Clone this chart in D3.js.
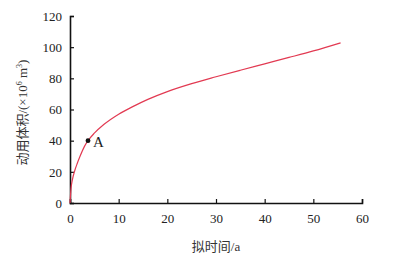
<!DOCTYPE html>
<html><head><meta charset="utf-8">
<script src="https://cdn.jsdelivr.net/npm/d3@7"></script>
<style>body{margin:0;background:#fff}svg{display:block}</style>
</head><body><svg id="c" width="399" height="262"></svg>
<script>
const xTicks = [0,10,20,30,40,50,60];
const yTicks = [0,20,40,60,80,100,120];
const timeA = [0,0.2,0.5,1,1.5,2,3,3.7,5,7,10,13,16,20,25,30,35,40,45,50,55.6];
const volume = [0,9,15,21,25.5,29.5,36.5,40,44.8,50.5,57,62,66.5,71.5,76.6,81,85.2,89.3,93.4,97.6,102.8];
const pointA = {x:3.7, y:40, label:"A"};
const xLabel = "拟时间/a";

const svg = d3.select("#c");
const m = {l:70, r:37, t:16, b:59};
const W = 399, H = 262;
const x = d3.scaleLinear().domain([0,60]).range([m.l, W-m.r]);
const y = d3.scaleLinear().domain([0,120]).range([H-m.b, m.t]);
const font = "'Liberation Serif','Times New Roman','Noto Sans CJK SC',serif";

const gx = svg.append("g").attr("transform",`translate(0,${y(0)})`)
  .call(d3.axisBottom(x).tickValues(xTicks).tickSize(-4).tickPadding(11));
const gy = svg.append("g").attr("transform",`translate(${x(0)},0)`)
  .call(d3.axisLeft(y).tickValues(yTicks).tickSize(-4).tickPadding(8));
[gx,gy].forEach(g=>{
  g.select(".domain").attr("stroke","#111").attr("stroke-width",1.6);
  g.selectAll(".tick line").attr("stroke","#111").attr("stroke-width",1.2);
  g.selectAll("text").attr("font-family",font).attr("font-size",13).attr("fill","#222");
});

const line = d3.line().x((d,i)=>x(timeA[i])).y(d=>y(d)).curve(d3.curveMonotoneX);
svg.append("path").datum(volume).attr("d",line).attr("fill","none")
  .attr("stroke","#e23a52").attr("stroke-width",1.2);

svg.append("circle").attr("cx",x(pointA.x)).attr("cy",y(pointA.y)).attr("r",2.4).attr("fill","#111");
svg.append("text").attr("x",x(pointA.x)+5).attr("y",y(pointA.y)+6)
  .attr("font-family",font).attr("font-size",15).attr("fill","#222").text(pointA.label);

svg.append("text").attr("x",(x(0)+x(60))/2).attr("y",251).attr("text-anchor","middle")
  .attr("font-family",font).attr("font-size",13).attr("fill","#333").text(xLabel);

const yl = svg.append("text").attr("transform",`translate(27,${y(58)}) rotate(-90)`)
  .attr("text-anchor","middle").attr("font-family",font).attr("font-size",13).attr("fill","#333");
yl.append("tspan").text("动用体积/(×10");
yl.append("tspan").attr("font-size",8).attr("dy",-5).text("6");
yl.append("tspan").attr("dy",5).text(" m");
yl.append("tspan").attr("font-size",8).attr("dy",-5).text("3");
yl.append("tspan").attr("dy",5).text(")");
</script></body></html>
